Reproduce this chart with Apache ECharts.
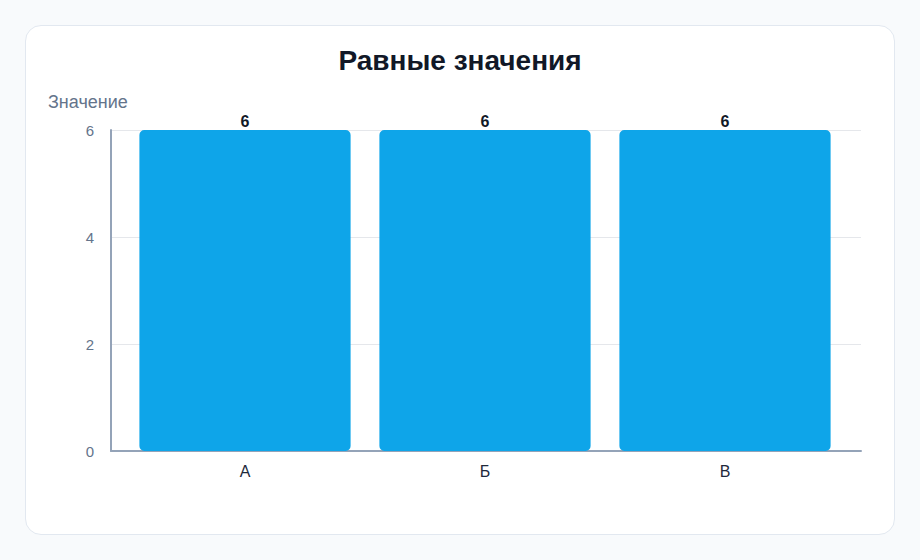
<!DOCTYPE html>
<html>
<head>
<meta charset="utf-8">
<style>
  html, body { margin: 0; padding: 0; width: 920px; height: 560px; background: #f8fafc; overflow: hidden; }
  .card { position: absolute; left: 25px; top: 25px; width: 868px; height: 508px;
          background: #fff; border: 1px solid #e2e8f0; border-radius: 16px; }
  #main { position: absolute; left: 0; top: 0; width: 920px; height: 560px; }
</style>
<script src="https://cdn.jsdelivr.net/npm/echarts@6/dist/echarts.min.js"></script>
</head>
<body>
<div class="card"></div>
<div id="main"></div>
<script>
const categories = ['А', 'Б', 'В']
const values = [6, 6, 6]
const yTicks = { min: 0, max: 6, interval: 2 }

const font = '"Liberation Sans", Arial, sans-serif'
const chart = echarts.init(document.getElementById('main'), null, { renderer: 'svg' })

chart.setOption({
  backgroundColor: 'transparent',
  textStyle: { fontFamily: font },
  title: {
    text: 'Равные значения',
    left: 'center',
    top: 41,
    textStyle: { fontSize: 28, fontWeight: 'bold', color: '#111827', fontFamily: font }
  },
  grid: [
    // frame: axis lines, gridlines, y labels
    { left: 111, right: 59, top: 130, bottom: 109 },
    // bars
    { left: 125, right: 75, top: 130, bottom: 109 }
  ],
  xAxis: [
    {
      gridIndex: 0, type: 'value', min: 0, max: 1,
      axisLine: { show: true, onZero: false, lineStyle: { color: '#94a3b8', width: 2 } },
      axisTick: { show: false }, axisLabel: { show: false }, splitLine: { show: false }
    },
    {
      gridIndex: 1, type: 'category', data: categories,
      axisLine: { show: false }, axisTick: { show: false },
      axisLabel: { color: '#1e293b', fontSize: 16, margin: 12, fontFamily: font }
    }
  ],
  yAxis: [
    {
      gridIndex: 0, type: 'value', min: yTicks.min, max: yTicks.max, interval: yTicks.interval,
      name: 'Значение',
      nameLocation: 'end',
      nameGap: 19,
      nameTextStyle: { color: '#64748b', fontSize: 18, align: 'left', padding: [0, 0, 0, -63], fontFamily: font },
      axisLine: { show: true, lineStyle: { color: '#94a3b8', width: 2 } },
      axisTick: { show: false },
      axisLabel: { color: '#64748b', fontSize: 15, margin: 17, fontFamily: font },
      splitLine: { show: true, lineStyle: { color: '#e5e7eb', width: 1 } }
    },
    {
      gridIndex: 1, type: 'value', min: yTicks.min, max: yTicks.max, interval: yTicks.interval,
      show: false
    }
  ],
  series: [{
    type: 'bar',
    xAxisIndex: 1,
    yAxisIndex: 1,
    data: values,
    barWidth: '88%',
    itemStyle: { color: '#0ea5e9', borderRadius: 5 },
    label: {
      show: true, position: 'top', distance: 1,
      color: '#111827', fontSize: 16, fontWeight: 'bold', fontFamily: font
    }
  }]
})
</script>
</body>
</html>
